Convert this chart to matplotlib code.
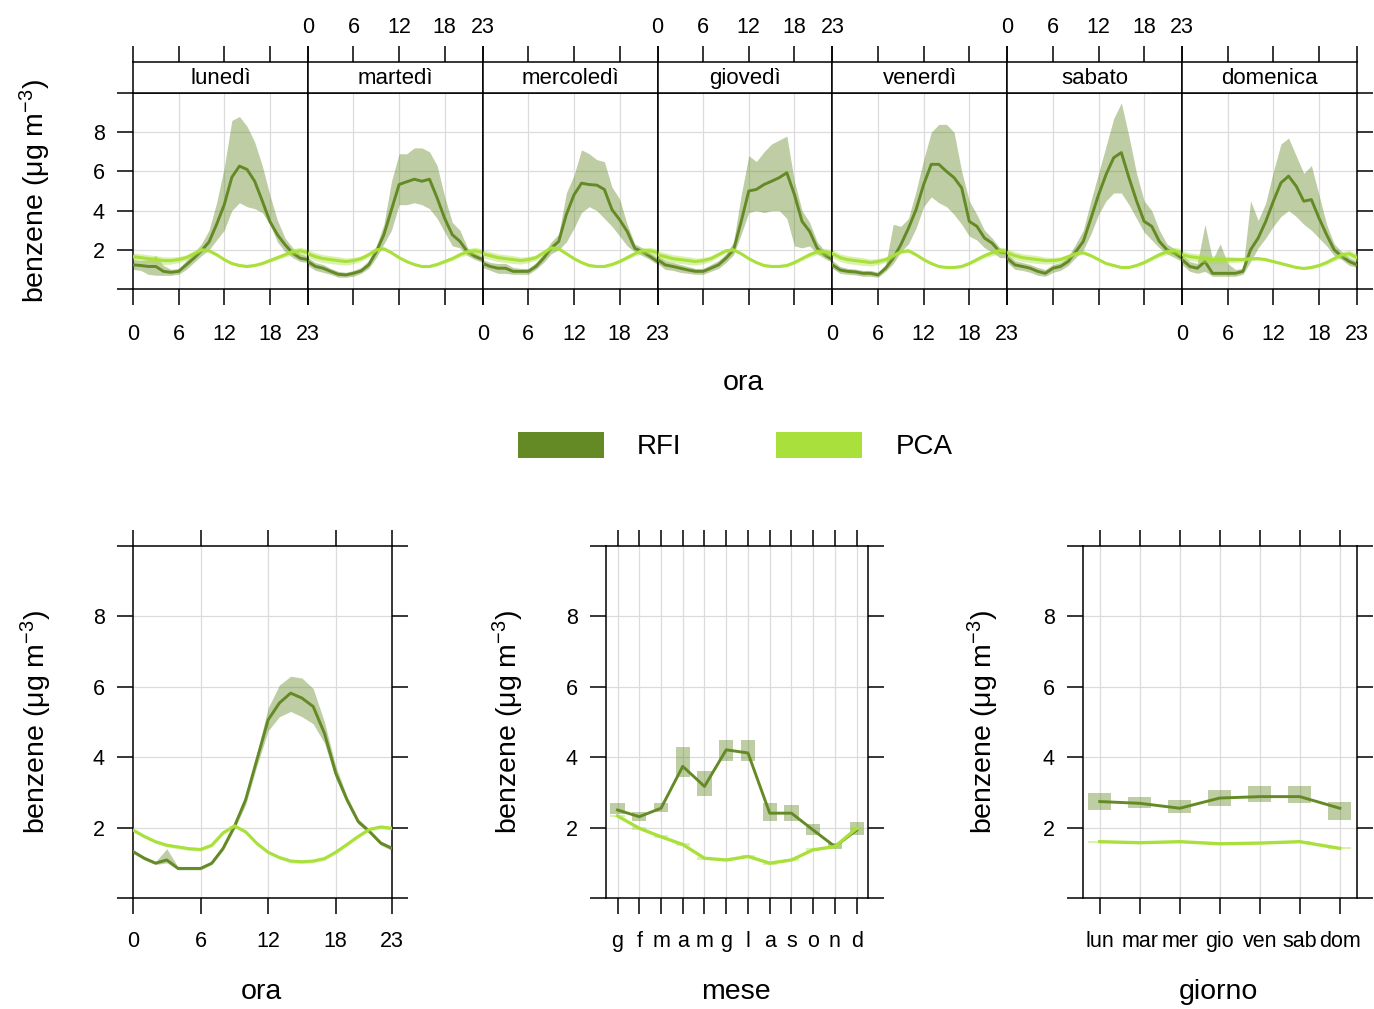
import numpy as np
import matplotlib
matplotlib.use("Agg")
import matplotlib.pyplot as plt
from matplotlib.patches import Patch
from matplotlib import font_manager

plt.rcParams['font.family'] = ['Liberation Sans', 'DejaVu Sans']
plt.rcParams['mathtext.fontset'] = 'custom'
plt.rcParams['mathtext.rm'] = 'Liberation Sans'
plt.rcParams['mathtext.it'] = 'Liberation Sans:italic'
plt.rcParams['mathtext.bf'] = 'Liberation Sans:bold'

_installed = {f.name for f in font_manager.fontManager.ttflist}
NARROW = 'Liberation Sans Narrow' if 'Liberation Sans Narrow' in _installed else 'Liberation Sans'

# ---------------------------------------------------------------- data
hours = list(range(24))
hour_ticks = [0, 6, 12, 18, 23]
day_names = ["lunedì", "martedì", "mercoledì", "giovedì", "venerdì", "sabato", "domenica"]
series_names = ["RFI", "PCA"]

# RFI: hourly mean and confidence limits for each day of the week
rfi_lun = [1.23, 1.2, 1.15, 1.15, 0.9, 0.85, 0.9, 1.23, 1.57, 1.95, 2.4, 3.3, 4.3, 5.7, 6.27, 6.1, 5.5, 4.5, 3.45, 2.77, 2.26, 1.83, 1.57, 1.5]
rfi_lun_lo = [1.0, 0.95, 0.75, 0.7, 0.7, 0.7, 0.75, 1.0, 1.35, 1.7, 2.0, 2.5, 3.0, 4.0, 4.4, 4.2, 4.1, 3.9, 3.3, 2.4, 1.9, 1.6, 1.4, 1.35]
rfi_lun_hi = [1.5, 1.45, 1.5, 1.7, 1.2, 1.0, 1.05, 1.45, 1.85, 2.3, 3.0, 4.4, 6.2, 8.6, 8.8, 8.3, 7.5, 6.3, 4.8, 3.5, 2.6, 2.1, 1.8, 1.65]

rfi_mar = [1.4, 1.15, 1.06, 0.9, 0.75, 0.72, 0.8, 0.92, 1.23, 1.9, 2.77, 4.05, 5.33, 5.47, 5.6, 5.5, 5.6, 4.65, 3.6, 2.77, 2.43, 1.9, 1.66, 1.5]
rfi_mar_lo = [1.2, 0.95, 0.85, 0.75, 0.6, 0.6, 0.65, 0.8, 1.05, 1.6, 2.3, 3.0, 4.3, 4.3, 4.4, 4.3, 4.1, 3.6, 2.9, 2.2, 2.1, 1.7, 1.5, 1.35]
rfi_mar_hi = [1.6, 1.35, 1.25, 1.05, 0.9, 0.85, 0.95, 1.1, 1.45, 2.2, 3.3, 5.5, 6.9, 6.9, 7.2, 7.2, 7.0, 6.3, 4.7, 3.4, 3.0, 2.1, 1.85, 1.65]

rfi_mer = [1.3, 1.15, 1.06, 1.06, 0.9, 0.9, 0.9, 1.15, 1.57, 2.08, 2.43, 3.8, 4.8, 5.4, 5.33, 5.3, 5.08, 4.05, 3.54, 2.94, 2.08, 1.9, 1.66, 1.4]
rfi_mer_lo = [1.1, 0.95, 0.8, 0.8, 0.75, 0.75, 0.75, 1.0, 1.35, 1.8, 2.0, 2.4, 3.1, 3.9, 4.2, 4.0, 3.6, 3.2, 2.7, 2.2, 1.9, 1.7, 1.5, 1.25]
rfi_mer_hi = [1.5, 1.35, 1.3, 1.3, 1.1, 1.05, 1.05, 1.35, 1.8, 2.4, 2.8, 4.9, 5.8, 7.1, 6.9, 6.6, 6.5, 5.2, 4.6, 3.3, 2.3, 2.1, 1.85, 1.6]

rfi_gio = [1.5, 1.23, 1.15, 1.06, 0.97, 0.9, 0.9, 1.06, 1.23, 1.57, 2.0, 3.45, 5.0, 5.08, 5.33, 5.5, 5.68, 5.93, 4.82, 3.45, 2.94, 2.08, 1.74, 1.5]
rfi_gio_lo = [1.3, 1.0, 0.95, 0.85, 0.8, 0.75, 0.75, 0.9, 1.05, 1.35, 1.75, 2.8, 3.9, 4.0, 3.9, 4.0, 4.0, 3.6, 2.2, 2.1, 2.2, 1.8, 1.55, 1.35]
rfi_gio_hi = [1.7, 1.45, 1.35, 1.25, 1.15, 1.05, 1.05, 1.25, 1.45, 1.8, 2.4, 4.8, 6.8, 6.5, 7.0, 7.4, 7.6, 7.8, 5.5, 4.0, 3.4, 2.4, 1.95, 1.7]

rfi_ven = [1.23, 0.97, 0.9, 0.87, 0.8, 0.8, 0.72, 1.06, 1.57, 2.26, 3.1, 4.05, 5.33, 6.36, 6.36, 6.0, 5.68, 5.16, 3.45, 3.2, 2.6, 2.34, 1.9, 1.83]
rfi_ven_lo = [1.05, 0.8, 0.75, 0.72, 0.65, 0.65, 0.6, 0.9, 1.3, 1.9, 2.3, 3.1, 4.2, 4.7, 4.4, 4.2, 3.8, 3.3, 2.7, 2.5, 2.1, 1.9, 1.6, 1.6]
rfi_ven_hi = [1.45, 1.15, 1.05, 1.02, 0.95, 0.95, 0.85, 1.25, 3.3, 3.2, 3.6, 5.0, 6.6, 8.0, 8.4, 8.4, 8.0, 6.0, 4.5, 3.8, 3.0, 2.6, 2.1, 2.0]

rfi_sab = [1.57, 1.23, 1.15, 1.06, 0.9, 0.8, 1.06, 1.15, 1.4, 1.9, 2.43, 3.6, 4.8, 5.85, 6.7, 6.96, 5.68, 4.5, 3.45, 3.2, 2.43, 2.0, 1.83, 1.57]
rfi_sab_lo = [1.35, 1.0, 0.95, 0.85, 0.7, 0.65, 0.85, 0.95, 1.2, 1.6, 2.0, 2.8, 3.8, 4.5, 4.9, 4.9, 4.3, 3.6, 2.9, 2.5, 2.1, 1.8, 1.6, 1.4]
rfi_sab_hi = [1.8, 1.45, 1.35, 1.25, 1.1, 1.0, 1.25, 1.35, 1.65, 2.3, 3.0, 4.5, 5.9, 7.3, 8.7, 9.5, 7.8, 5.9, 4.5, 4.0, 3.0, 2.3, 2.05, 1.75]

rfi_dom = [1.5, 1.15, 1.06, 1.4, 0.8, 0.8, 0.8, 0.8, 0.9, 2.0, 2.6, 3.45, 4.48, 5.42, 5.76, 5.25, 4.48, 4.56, 3.62, 2.77, 2.0, 1.66, 1.4, 1.23]
rfi_dom_lo = [1.25, 0.9, 0.8, 0.9, 0.65, 0.65, 0.65, 0.65, 0.75, 1.4, 2.1, 2.6, 3.2, 3.7, 4.0, 3.7, 3.3, 3.0, 2.6, 2.2, 1.7, 1.5, 1.2, 1.1]
rfi_dom_hi = [1.75, 1.4, 1.3, 3.3, 1.5, 2.3, 1.3, 1.0, 1.05, 4.5, 3.5, 4.4, 6.0, 7.4, 7.7, 6.8, 5.9, 6.3, 4.8, 3.3, 2.3, 1.9, 1.6, 1.4]

# PCA: hourly mean for each day of the week, half-width of its confidence band by hour
pca_lun = [1.65, 1.6, 1.55, 1.5, 1.45, 1.45, 1.5, 1.6, 1.8, 2.0, 1.95, 1.75, 1.5, 1.3, 1.2, 1.15, 1.2, 1.3, 1.45, 1.6, 1.75, 1.9, 1.95, 1.85]
pca_mar = [1.8, 1.65, 1.55, 1.5, 1.45, 1.4, 1.45, 1.55, 1.75, 2.0, 2.05, 1.85, 1.6, 1.4, 1.25, 1.15, 1.15, 1.25, 1.4, 1.55, 1.75, 1.9, 1.95, 1.85]
pca_mer = [1.8, 1.7, 1.6, 1.55, 1.5, 1.45, 1.5, 1.6, 1.85, 2.1, 2.05, 1.8, 1.55, 1.35, 1.2, 1.15, 1.15, 1.25, 1.4, 1.6, 1.8, 1.95, 1.95, 1.85]
pca_gio = [1.75, 1.65, 1.55, 1.5, 1.45, 1.4, 1.45, 1.55, 1.75, 1.95, 2.0, 1.8, 1.55, 1.35, 1.2, 1.15, 1.15, 1.2, 1.35, 1.55, 1.75, 1.9, 1.9, 1.8]
pca_ven = [1.8, 1.6, 1.5, 1.45, 1.4, 1.35, 1.4, 1.5, 1.7, 1.9, 1.95, 1.75, 1.5, 1.3, 1.15, 1.1, 1.1, 1.15, 1.3, 1.5, 1.7, 1.85, 1.95, 1.9]
pca_sab = [1.85, 1.7, 1.6, 1.55, 1.5, 1.45, 1.45, 1.5, 1.65, 1.8, 1.85, 1.7, 1.5, 1.3, 1.2, 1.1, 1.1, 1.2, 1.35, 1.55, 1.75, 1.9, 1.95, 1.85]
pca_dom = [1.75, 1.65, 1.6, 1.55, 1.5, 1.5, 1.5, 1.5, 1.5, 1.55, 1.55, 1.5, 1.4, 1.3, 1.2, 1.1, 1.05, 1.1, 1.2, 1.35, 1.55, 1.75, 1.8, 1.6]
pca_day_ci = [0.2, 0.2, 0.2, 0.2, 0.2, 0.18, 0.16, 0.14, 0.12, 0.1, 0.08, 0.07, 0.06, 0.06, 0.06, 0.06, 0.06, 0.07, 0.08, 0.1, 0.12, 0.15, 0.18, 0.2]

# average day
rfi_hour = [1.32, 1.13, 0.99, 1.08, 0.84, 0.84, 0.84, 0.99, 1.41, 2.03, 2.79, 3.93, 5.06, 5.54, 5.82, 5.68, 5.44, 4.68, 3.55, 2.79, 2.17, 1.89, 1.56, 1.41]
rfi_hour_lo = [1.27, 1.08, 0.95, 1.0, 0.8, 0.8, 0.8, 0.95, 1.35, 1.95, 2.65, 3.75, 4.75, 5.15, 5.3, 5.15, 4.95, 4.4, 3.4, 2.7, 2.1, 1.83, 1.5, 1.35]
rfi_hour_hi = [1.37, 1.18, 1.03, 1.4, 0.88, 0.88, 0.88, 1.03, 1.47, 2.1, 2.93, 4.1, 5.4, 6.05, 6.3, 6.25, 5.95, 5.0, 3.75, 2.9, 2.25, 1.95, 1.62, 1.47]
pca_hour = [1.93, 1.75, 1.6, 1.5, 1.45, 1.4, 1.38, 1.5, 1.85, 2.05, 1.88, 1.55, 1.3, 1.15, 1.05, 1.03, 1.05, 1.12, 1.3, 1.52, 1.75, 1.95, 2.02, 1.98]
pca_hour_ci = 0.05

# monthly means
month_labels = ["g", "f", "m", "a", "m", "g", "l", "a", "s", "o", "n", "d"]
rfi_month = [2.5, 2.31, 2.55, 3.74, 3.17, 4.21, 4.12, 2.41, 2.41, 1.93, 1.46, 1.93]
rfi_month_lo = [2.4, 2.2, 2.45, 3.45, 2.9, 3.9, 3.9, 2.2, 2.2, 1.8, 1.4, 1.8]
rfi_month_hi = [2.7, 2.45, 2.7, 4.3, 3.6, 4.5, 4.5, 2.7, 2.65, 2.1, 1.55, 2.15]
pca_month = [2.33, 1.98, 1.74, 1.52, 1.13, 1.08, 1.18, 0.99, 1.08, 1.37, 1.46, 1.98]
pca_month_ci = 0.04

# weekday means
wday_labels = ["lun", "mar", "mer", "gio", "ven", "sab", "dom"]
rfi_wday = [2.74, 2.69, 2.55, 2.84, 2.88, 2.88, 2.55]
rfi_wday_lo = [2.5, 2.55, 2.41, 2.6, 2.74, 2.69, 2.22]
rfi_wday_hi = [2.98, 2.88, 2.79, 3.07, 3.17, 3.17, 2.74]
pca_wday = [1.6, 1.57, 1.6, 1.54, 1.56, 1.6, 1.41]
pca_wday_ci = 0.03

# ---------------------------------------------------------------- style
RFI_COL = "#648A25"
PCA_COL = "#A9E03C"
BAND_ALPHA = 0.42
GRID_COL = "#dcdcdc"
TICK_FS = 15.5
LABEL_FS = 20.5
LEGEND_FS = 20
STRIP_FS = 16
TICK_LEN = 11.5
TICK_W = 1.1
FRAME_W = 1.1
YLIM = (0, 10)
Y_TICKS = [0, 2, 4, 6, 8, 10]
Y_TICKLABELS = ["", "2", "4", "6", "8", ""]
YLABEL = "benzene (μg m$^{-3}$)"

W, H = 1374, 1009
fig = plt.figure(figsize=(W / 100, H / 100), dpi=100)


def box(x0, y0, x1, y1):
    """Axes rectangle from pixel edges measured from the top-left corner."""
    return [x0 / W, 1 - y1 / H, (x1 - x0) / W, (y1 - y0) / H]


def frame(ax):
    for s in ax.spines.values():
        s.set_linewidth(FRAME_W)
        s.set_color("black")
    ax.tick_params(direction="out", length=TICK_LEN, width=TICK_W,
                   labelsize=TICK_FS, colors="black")


def grid(ax, xs):
    for x in xs:
        ax.axvline(x, color=GRID_COL, lw=0.9, zorder=0)
    for y in [2, 4, 6, 8]:
        ax.axhline(y, color=GRID_COL, lw=0.9, zorder=0)


# ---------------------------------------------------------------- weekly panels
weekly = [
    (rfi_lun, rfi_lun_lo, rfi_lun_hi, pca_lun),
    (rfi_mar, rfi_mar_lo, rfi_mar_hi, pca_mar),
    (rfi_mer, rfi_mer_lo, rfi_mer_hi, pca_mer),
    (rfi_gio, rfi_gio_lo, rfi_gio_hi, pca_gio),
    (rfi_ven, rfi_ven_lo, rfi_ven_hi, pca_ven),
    (rfi_sab, rfi_sab_lo, rfi_sab_hi, pca_sab),
    (rfi_dom, rfi_dom_lo, rfi_dom_hi, pca_dom),
]
P_LEFT, P_RIGHT, P_TOP, P_BOT, S_TOP = 133, 1357, 93, 289, 62
pw = (P_RIGHT - P_LEFT) / len(day_names)
pca_ci = np.array(pca_day_ci)

for i, (name, (rm, rl, rh, pm)) in enumerate(zip(day_names, weekly)):
    x0 = P_LEFT + i * pw
    ax = fig.add_axes(box(x0, P_TOP, x0 + pw, P_BOT))
    st = fig.add_axes(box(x0, S_TOP, x0 + pw, P_TOP))

    grid(ax, [6, 12, 18])
    ax.fill_between(hours, rl, rh, color=RFI_COL, alpha=BAND_ALPHA, lw=0, zorder=2)
    ax.plot(hours, rm, color=RFI_COL, lw=2.1, zorder=3)
    pm = np.array(pm)
    ax.fill_between(hours, pm - pca_ci, pm + pca_ci, color=PCA_COL, alpha=BAND_ALPHA, lw=0, zorder=4)
    ax.plot(hours, pm, color=PCA_COL, lw=2.2, zorder=5)

    ax.set_xlim(0, 23)
    ax.set_ylim(*YLIM)
    frame(ax)
    ax.set_xticks(hour_ticks)
    ax.tick_params(axis="x", bottom=True, top=False, labelbottom=(i % 2 == 0), pad=14)
    ax.set_yticks(Y_TICKS)
    if i == 0:
        ax.set_yticklabels(Y_TICKLABELS)
        ax.tick_params(axis="y", left=True, right=False, labelleft=True, pad=9)
    elif i == len(day_names) - 1:
        ax.tick_params(axis="y", left=False, right=True, labelleft=False, labelright=False)
    else:
        ax.tick_params(axis="y", left=False, right=False, labelleft=False)

    st.set_xlim(0, 23)
    st.set_ylim(0, 1)
    frame(st)
    st.set_yticks([])
    st.set_xticks(hour_ticks)
    st.tick_params(axis="x", bottom=False, top=True, labelbottom=False,
                   labeltop=(i % 2 == 1), pad=5.5)
    st.text(11.5, 0.47, name, ha="center", va="center", fontsize=STRIP_FS)

fig.text(35 / W, 1 - 191 / H, YLABEL, rotation=90, ha="center", va="center", fontsize=LABEL_FS)
fig.text(743 / W, 1 - 383 / H, "ora", ha="center", va="center", fontsize=LABEL_FS)

# ---------------------------------------------------------------- legend
handles = [Patch(facecolor=RFI_COL, edgecolor="none"), Patch(facecolor=PCA_COL, edgecolor="none")]
fig.legend(handles, series_names, loc="center", bbox_to_anchor=(735 / W, 1 - 446 / H),
           ncol=2, frameon=False, fontsize=LEGEND_FS, handlelength=3.1, handleheight=1.1,
           handletextpad=1.2, columnspacing=3.4)

# ---------------------------------------------------------------- bottom panels
B_TOP, B_BOT = 546, 898


def bottom_axes(x0, x1):
    ax = fig.add_axes(box(x0, B_TOP, x1, B_BOT))
    ax.set_ylim(*YLIM)
    frame(ax)
    ax.set_yticks(Y_TICKS)
    ax.set_yticklabels(Y_TICKLABELS)
    ax.tick_params(axis="x", bottom=True, top=True, labeltop=False, pad=12.5)
    ax.tick_params(axis="y", left=True, right=True, labelright=False, pad=9)
    return ax


# average day
ax1 = bottom_axes(133, 392)
grid(ax1, [6, 12, 18])
ax1.fill_between(hours, rfi_hour_lo, rfi_hour_hi, color=RFI_COL, alpha=BAND_ALPHA, lw=0, zorder=2)
ax1.plot(hours, rfi_hour, color=RFI_COL, lw=2.1, zorder=3)
ph = np.array(pca_hour)
ax1.fill_between(hours, ph - pca_hour_ci, ph + pca_hour_ci, color=PCA_COL, alpha=BAND_ALPHA, lw=0, zorder=4)
ax1.plot(hours, ph, color=PCA_COL, lw=2.2, zorder=5)
ax1.set_xlim(0, 23)
ax1.set_xticks(hour_ticks)

# months
ax2 = bottom_axes(606, 868)
months = np.arange(1, 13)
grid(ax2, months)
ax2.bar(months, np.array(rfi_month_hi) - np.array(rfi_month_lo), bottom=rfi_month_lo,
        width=0.65, color=RFI_COL, alpha=BAND_ALPHA, lw=0, zorder=2)
ax2.plot(months, rfi_month, color=RFI_COL, lw=2.1, zorder=3)
pmo = np.array(pca_month)
ax2.bar(months, 2 * pca_month_ci, bottom=pmo - pca_month_ci, width=0.65,
        color=PCA_COL, alpha=BAND_ALPHA, lw=0, zorder=4)
ax2.plot(months, pmo, color=PCA_COL, lw=2.4, zorder=5)
ax2.set_xlim(0.47, 12.52)
ax2.set_xticks(months)
ax2.set_xticklabels(month_labels, family=NARROW)

# weekdays
ax3 = bottom_axes(1083, 1357)
wd = np.arange(1, 8)
grid(ax3, wd)
ax3.bar(wd, np.array(rfi_wday_hi) - np.array(rfi_wday_lo), bottom=rfi_wday_lo,
        width=0.58, color=RFI_COL, alpha=BAND_ALPHA, lw=0, zorder=2)
ax3.plot(wd, rfi_wday, color=RFI_COL, lw=2.1, zorder=3)
pwd = np.array(pca_wday)
ax3.bar(wd, 2 * pca_wday_ci, bottom=pwd - pca_wday_ci, width=0.58,
        color=PCA_COL, alpha=BAND_ALPHA, lw=0, zorder=4)
ax3.plot(wd, pwd, color=PCA_COL, lw=2.4, zorder=5)
ax3.set_xlim(0.58, 7.43)
ax3.set_xticks(wd)
ax3.set_xticklabels(wday_labels, family=NARROW)

for xc, yl_x, xl in [(261, 36, "ora"), (736, 508, "mese"), (1218, 983, "giorno")]:
    fig.text(yl_x / W, 1 - 722 / H, YLABEL, rotation=90, ha="center", va="center", fontsize=LABEL_FS)
    fig.text(xc / W, 1 - 992 / H, xl, ha="center", va="center", fontsize=LABEL_FS)

fig.savefig("out.png", dpi=100, facecolor="white")
